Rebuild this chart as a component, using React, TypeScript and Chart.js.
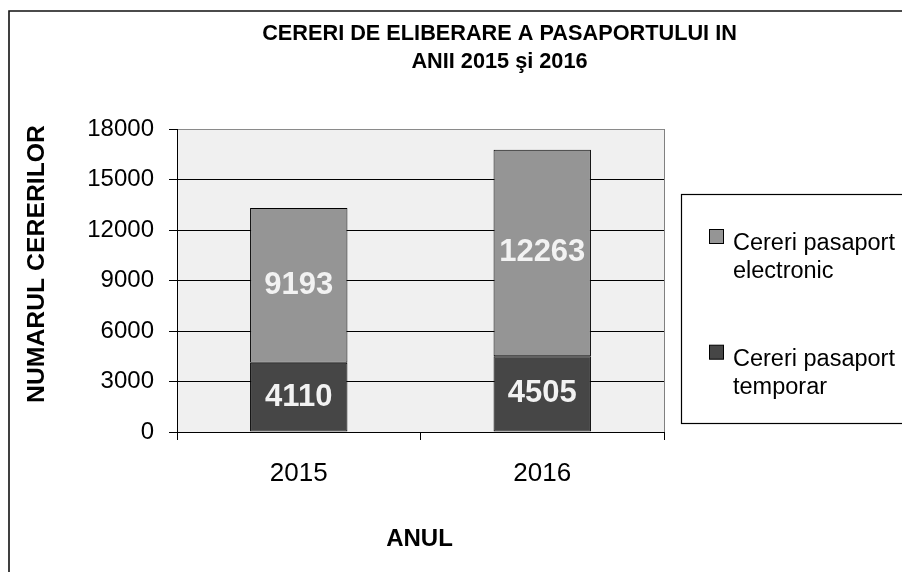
import React, { useEffect, useRef } from 'react';
import { Chart, registerables } from 'chart.js';

Chart.register(...registerables);

// ---- data ----
const categories = ['2015', '2016'];
const temporarValues = [4110, 4505];
const electronicValues = [9193, 12263];
const seriesNames = ['Cereri pasaport temporar', 'Cereri pasaport electronic'];
const yTicks = [0, 3000, 6000, 9000, 12000, 15000, 18000];
const titleLines = ['CERERI DE ELIBERARE A PASAPORTULUI IN', 'ANII 2015 şi 2016'];
const yTitle = 'NUMARUL CERERILOR';
const xTitle = 'ANUL';

const FONT = '"Liberation Sans", Arial, Helvetica, sans-serif';
const COLOR_TEMP = '#464646';
const COLOR_ELEC = '#959595';

function splitLabel(s: string): [string, string] {
  const i = s.lastIndexOf(' ');
  return [s.slice(0, i), s.slice(i + 1)];
}

const decor = {
  id: 'decor',
  beforeDraw(chart: any) {
    const { ctx, chartArea: a } = chart;
    ctx.save();
    ctx.fillStyle = '#ffffff';
    ctx.fillRect(0, 0, chart.width, chart.height);
    ctx.fillStyle = '#f0f0f0';
    ctx.fillRect(a.left, a.top, a.right - a.left, a.bottom - a.top);
    ctx.restore();
  },
  afterDatasetsDraw(chart: any) {
    const { ctx } = chart;
    ctx.save();
    ctx.font = `bold 31px ${FONT}`;
    ctx.fillStyle = '#f2f2f2';
    ctx.textAlign = 'center';
    ctx.textBaseline = 'middle';
    chart.data.datasets.forEach((ds: any, i: number) => {
      const meta = chart.getDatasetMeta(i);
      meta.data.forEach((bar: any, j: number) => {
        const { x, y, base } = bar.getProps(['x', 'y', 'base'], true);
        ctx.fillText(String(ds.data[j]), x, (y + base) / 2);
      });
    });
    ctx.restore();
  },
  afterDraw(chart: any) {
    const { ctx, chartArea: a } = chart;
    ctx.save();
    // plot right border
    ctx.strokeStyle = '#808080';
    ctx.lineWidth = 1;
    ctx.beginPath();
    ctx.moveTo(Math.round(a.right) + 0.5, a.top);
    ctx.lineTo(Math.round(a.right) + 0.5, a.bottom);
    ctx.stroke();

    // outer chart border
    ctx.strokeStyle = '#111';
    ctx.lineWidth = 1.6;
    ctx.beginPath();
    ctx.moveTo(9, chart.height + 5);
    ctx.lineTo(9, 11);
    ctx.lineTo(chart.width + 5, 11);
    ctx.stroke();

    // title
    ctx.fillStyle = '#000';
    ctx.font = `bold 20px ${FONT}`;
    const tSize = 20 * 475 / ctx.measureText(titleLines[0]).width;
    ctx.font = `bold ${tSize}px ${FONT}`;
    ctx.textAlign = 'center';
    ctx.textBaseline = 'alphabetic';
    const baselines = [39.5, 67.5];
    titleLines.forEach((t, i) => {
      ctx.fillText(t, 499.5, baselines[i]);
    });

    // y title
    ctx.font = `bold 20px ${FONT}`;
    const ySize = 20 * 278 / ctx.measureText(yTitle).width;
    ctx.font = `bold ${ySize}px ${FONT}`;
    ctx.save();
    ctx.translate(44, 264);
    ctx.rotate(-Math.PI / 2);
    ctx.fillText(yTitle, 0, 0);
    ctx.restore();

    // x title
    ctx.font = `bold 24px ${FONT}`;
    ctx.fillText(xTitle, 419.5, 545.5);

    // legend
    ctx.fillStyle = '#ffffff';
    ctx.fillRect(681.5, 194.5, 400, 229);
    ctx.strokeStyle = '#000';
    ctx.lineWidth = 1.2;
    ctx.strokeRect(681.5, 194.5, 400, 229);
    const items = chart.data.datasets.slice().reverse();
    ctx.font = `23.5px ${FONT}`;
    ctx.textAlign = 'left';
    items.forEach((ds: any, i: number) => {
      const top = 229.5 + i * 115.7;
      ctx.fillStyle = ds.backgroundColor;
      ctx.fillRect(709.5, top, 14, 14);
      ctx.strokeStyle = '#000';
      ctx.lineWidth = 1;
      ctx.strokeRect(709.5, top, 14, 14);
      const [l1, l2] = splitLabel(ds.label);
      ctx.fillStyle = '#000';
      ctx.fillText(l1, 733, top + 20.5);
      ctx.fillText(l2, 733, top + 48.5);
    });
    ctx.restore();
  },
};

export default function App() {
  const ref = useRef<HTMLCanvasElement | null>(null);
  useEffect(() => {
    if (!ref.current) return;
    const chart = new Chart(ref.current, {
      type: 'bar',
      data: {
        labels: categories,
        datasets: [
          {
            label: seriesNames[0],
            data: temporarValues,
            backgroundColor: COLOR_TEMP,
            borderColor: '#000',
            borderWidth: 1,
            borderSkipped: false,
            categoryPercentage: 1,
            barPercentage: 0.4,
          },
          {
            label: seriesNames[1],
            data: electronicValues,
            backgroundColor: COLOR_ELEC,
            borderColor: '#000',
            borderWidth: 1,
            borderSkipped: false,
            categoryPercentage: 1,
            barPercentage: 0.4,
          },
        ],
      },
      options: {
        responsive: false,
        animation: false,
        layout: { padding: { top: 129, right: 238, bottom: 0, left: 0 } },
        plugins: {
          legend: { display: false },
          title: { display: false },
          tooltip: { enabled: false },
        },
        scales: {
          x: {
            stacked: true,
            afterFit: (s: any) => { s.height = 140; },
            grid: {
              offset: true,
              drawOnChartArea: false,
              drawTicks: true,
              tickLength: 8,
              color: '#000',
              lineWidth: 1,
            },
            border: { display: true, color: '#000', width: 1 },
            ticks: {
              color: '#000',
              font: { family: FONT, size: 26 },
              padding: 18,
            },
          },
          y: {
            stacked: true,
            min: 0,
            max: 18000,
            afterFit: (s: any) => { s.width = 177; },
            afterBuildTicks: (s: any) => { s.ticks = yTicks.map((v) => ({ value: v })); },
            grid: {
              drawTicks: true,
              tickLength: 8,
              color: (c: any) => (c.tick && c.tick.value === 18000 ? '#8a8a8a' : '#000'),
              tickColor: '#000',
              lineWidth: 1,
            },
            border: { display: true, color: '#000', width: 1 },
            ticks: {
              color: '#000',
              font: { family: FONT, size: 24 },
              padding: 15,
              callback: (v: any) => String(v),
            },
          },
        },
      },
      plugins: [decor],
    } as any);
    return () => chart.destroy();
  }, []);

  return (
    <div style={{ position: 'fixed', left: 0, top: 0, width: 902, height: 572, overflow: 'hidden', background: '#fff' }}>
      <canvas ref={ref} width={902} height={572} style={{ display: 'block' }} />
    </div>
  );
}
